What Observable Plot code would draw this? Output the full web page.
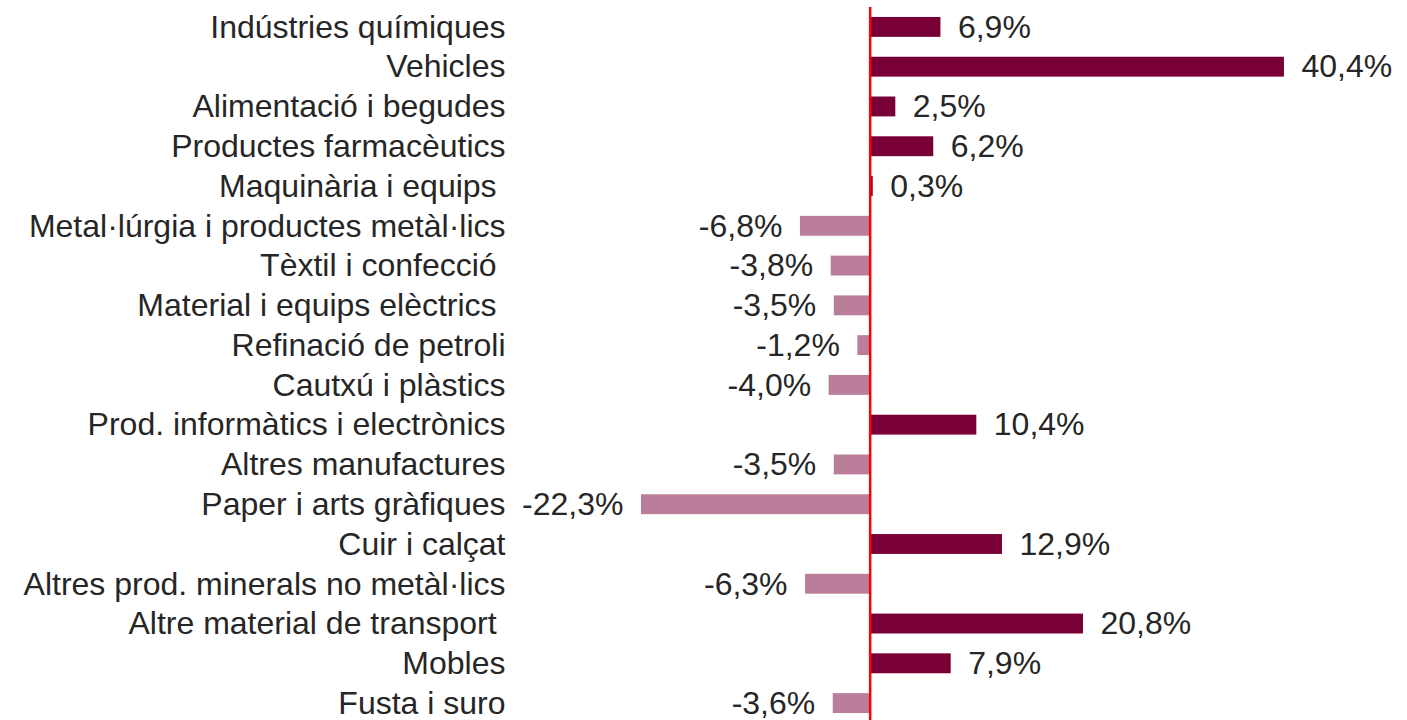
<!DOCTYPE html>
<html>
<head>
<meta charset="utf-8">
<script src="https://cdn.jsdelivr.net/npm/d3@7"></script>
<script src="https://cdn.jsdelivr.net/npm/@observablehq/plot@0.6"></script>
<style>
  html, body { margin: 0; padding: 0; background: #fff; }
  svg text { white-space: pre; }
</style>
</head>
<body>
<div id="chart"></div>
<script>
const categories = [
  "Indústries químiques",
  "Vehicles",
  "Alimentació i begudes",
  "Productes farmacèutics",
  "Maquinària i equips ",
  "Metal·lúrgia i productes metàl·lics",
  "Tèxtil i confecció ",
  "Material i equips elèctrics ",
  "Refinació de petroli",
  "Cautxú i plàstics",
  "Prod. informàtics i electrònics",
  "Altres manufactures",
  "Paper i arts gràfiques",
  "Cuir i calçat",
  "Altres prod. minerals no metàl·lics",
  "Altre material de transport ",
  "Mobles",
  "Fusta i suro"
];
const values = [6.9, 40.4, 2.5, 6.2, 0.3, -6.8, -3.8, -3.5, -1.2, -4.0, 10.4, -3.5, -22.3, 12.9, -6.3, 20.8, 7.9, -3.6];

const data = categories.map((c, i) => ({category: c, value: values[i]}));
const fmt = v => v.toFixed(1).replace(".", ",") + "%";

const chart = Plot.plot({
  width: 1407,
  height: 720,
  marginLeft: 520,
  marginRight: 0,
  marginTop: 11,
  marginBottom: 1,
  style: {fontFamily: "'Liberation Sans', Arial, sans-serif", fontSize: "32px", color: "#262626", background: "#fff"},
  x: {domain: [-34.1, 52.4], axis: null},
  y: {domain: categories, paddingInner: 0.5, paddingOuter: 0.15, round: false, label: null, axis: null},
  marks: [
    Plot.axisY({tickSize: 0, tickPadding: 15, fontSize: 32, fill: "#262626", label: null}),
    Plot.barX(data, {y: "category", x: "value", fill: d => d.value >= 0 ? "#780037" : "#ba7e9a"}),
    Plot.text(data.filter(d => d.value >= 0), {y: "category", x: "value", text: d => fmt(d.value), textAnchor: "start", dx: 17, fontSize: 32, fill: "#262626"}),
    Plot.text(data.filter(d => d.value < 0), {y: "category", x: "value", text: d => fmt(d.value), textAnchor: "end", dx: -18, fontSize: 32, fill: "#262626"}),
    Plot.ruleX([0], {stroke: "#ff0000", strokeWidth: 2.5, insetTop: -4, insetBottom: -1})
  ]
});
document.getElementById("chart").appendChild(chart);
</script>
</body>
</html>
